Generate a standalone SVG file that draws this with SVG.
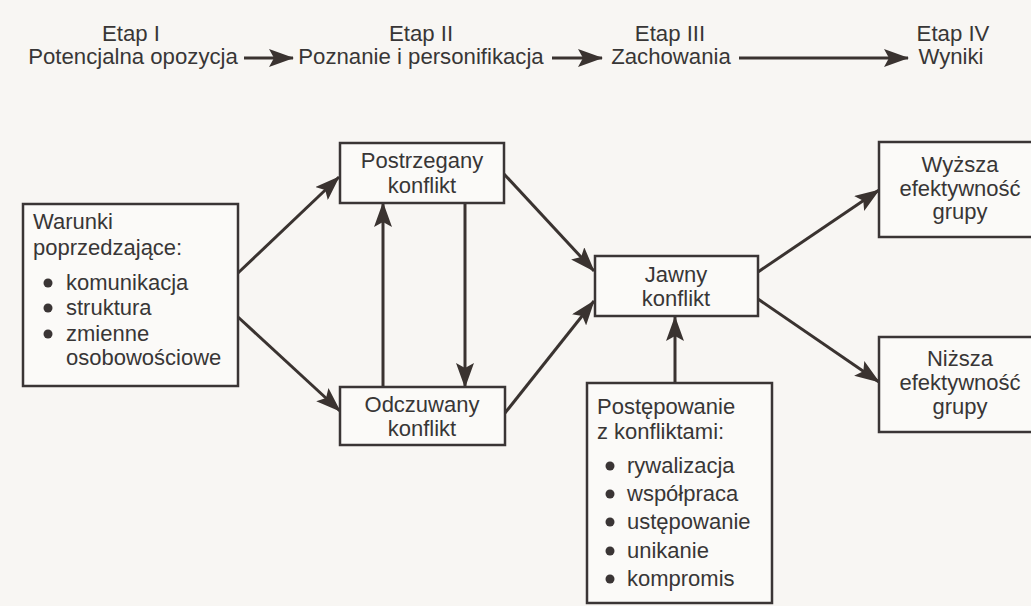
<svg xmlns="http://www.w3.org/2000/svg" width="1031" height="606" viewBox="0 0 1031 606">
<defs>
<marker id="ah" markerUnits="userSpaceOnUse" markerWidth="25" markerHeight="18" refX="24" refY="9" orient="auto">
<path d="M0,0 L25,9 L0,18 L5,9 z" fill="#3a3330"/>
</marker>
</defs>
<style>
text{font-family:"Liberation Sans",Arial,sans-serif;font-size:22px;fill:#383636}
.top{font-size:22.2px}
.c{text-anchor:middle}
.box{fill:#fbfaf8;stroke:#3a3535;stroke-width:2.5}
.ln{stroke:#3a3330;stroke-width:3;fill:none;marker-end:url(#ah)}
.dot{fill:#3a3535}
</style>
<rect width="1031" height="606" fill="#f8f6f3"/>
<g id="stages">
<text class="c top" x="131" y="41">Etap I</text>
<text class="c top" x="133" y="64">Potencjalna opozycja</text>
<text class="c top" x="421" y="41">Etap II</text>
<text class="c top" x="421" y="64">Poznanie i personifikacja</text>
<text class="c top" x="670" y="41">Etap III</text>
<text class="c top" x="671" y="64">Zachowania</text>
<text class="c top" x="953" y="41">Etap IV</text>
<text class="c top" x="951" y="64">Wyniki</text>
</g>
<g id="connectors">
<line class="ln" x1="244" y1="58" x2="293" y2="58"/>
<line class="ln" x1="552" y1="58" x2="602" y2="58"/>
<line class="ln" x1="739" y1="58" x2="908" y2="58"/>
<line class="ln" x1="238" y1="273" x2="339" y2="177"/>
<line class="ln" x1="238" y1="317" x2="340" y2="411"/>
<line class="ln" x1="465" y1="203" x2="465" y2="387"/>
<line class="ln" x1="383" y1="387" x2="383" y2="203"/>
<line class="ln" x1="504" y1="174" x2="594" y2="271"/>
<line class="ln" x1="505" y1="413" x2="594" y2="301"/>
<line class="ln" x1="675" y1="383" x2="675" y2="317"/>
<line class="ln" x1="758" y1="272" x2="879" y2="190"/>
<line class="ln" x1="758" y1="299" x2="879" y2="382"/>
</g>
<g id="warunki">
<rect class="box" x="23" y="204" width="215" height="182"/>
<text x="33" y="229">Warunki</text>
<text x="33" y="255">poprzedzające:</text>
<circle class="dot" cx="48" cy="283" r="4.5"/>
<text x="66" y="290">komunikacja</text>
<circle class="dot" cx="48" cy="308" r="4.5"/>
<text x="66" y="315">struktura</text>
<circle class="dot" cx="48" cy="334" r="4.5"/>
<text x="66" y="341">zmienne</text>
<text x="66" y="365">osobowościowe</text>
</g>
<g id="postrzegany">
<rect class="box" x="340" y="143" width="164" height="60"/>
<text class="c" x="422" y="168">Postrzegany</text>
<text class="c" x="422" y="193">konflikt</text>
</g>
<g id="odczuwany">
<rect class="box" x="340" y="387" width="165" height="58"/>
<text class="c" x="422" y="412">Odczuwany</text>
<text class="c" x="422" y="436">konflikt</text>
</g>
<g id="jawny">
<rect class="box" x="595" y="256" width="163" height="60"/>
<text class="c" x="676" y="282">Jawny</text>
<text class="c" x="676" y="306">konflikt</text>
</g>
<g id="postepowanie">
<rect class="box" x="587" y="383" width="185" height="220"/>
<text x="597" y="414">Postępowanie</text>
<text x="597" y="439">z konfliktami:</text>
<circle class="dot" cx="610" cy="466" r="4.5"/>
<text x="627" y="473">rywalizacja</text>
<circle class="dot" cx="610" cy="494" r="4.5"/>
<text x="627" y="501">współpraca</text>
<circle class="dot" cx="610" cy="522" r="4.5"/>
<text x="627" y="529">ustępowanie</text>
<circle class="dot" cx="610" cy="551" r="4.5"/>
<text x="627" y="558">unikanie</text>
<circle class="dot" cx="610" cy="579" r="4.5"/>
<text x="627" y="586">kompromis</text>
</g>
<g id="wyzsza">
<rect class="box" x="879" y="142" width="200" height="95"/>
<text class="c" x="960" y="172">Wyższa</text>
<text class="c" x="960" y="196">efektywność</text>
<text class="c" x="960" y="219">grupy</text>
</g>
<g id="nizsza">
<rect class="box" x="879" y="337" width="200" height="95"/>
<text class="c" x="960" y="366">Niższa</text>
<text class="c" x="960" y="390">efektywność</text>
<text class="c" x="960" y="414">grupy</text>
</g>
</svg>
